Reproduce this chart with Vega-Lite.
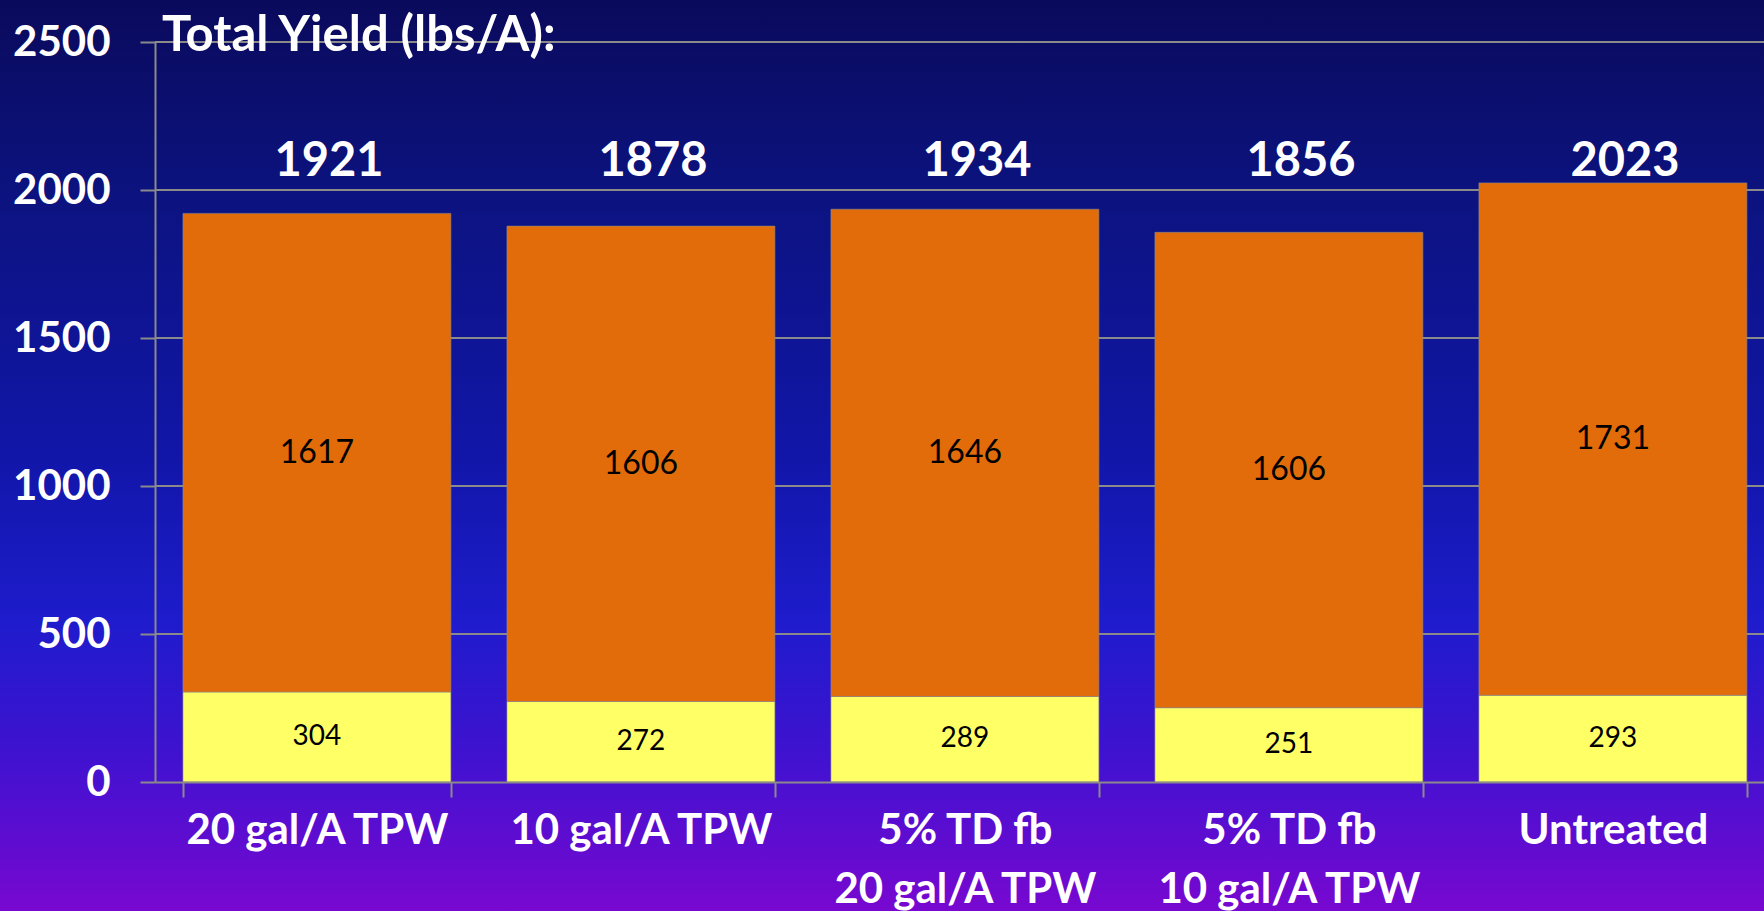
{
  "$schema": "https://vega.github.io/schema/vega-lite/v6.json",
  "autosize": {"type": "none"},
  "padding": {"left": 155, "top": 42, "right": 0, "bottom": 129},
  "width": 1609,
  "height": 740,
  "background": "#0e1490",
  "title": {
    "text": "Total Yield (lbs/A):",
    "anchor": "start",
    "frame": "group",
    "orient": "top",
    "baseline": "alphabetic",
    "offset": -100,
    "dx": 7,
    "font": "Lato",
    "fontSize": 49,
    "fontWeight": "bold",
    "color": "#ffffff",
    "zindex": 1
  },
  "datasets": {
    "parts": [
      {"category": "20 gal/A TPW", "segment": "lower", "value": 304},
      {"category": "20 gal/A TPW", "segment": "upper", "value": 1617},
      {"category": "10 gal/A TPW", "segment": "lower", "value": 272},
      {"category": "10 gal/A TPW", "segment": "upper", "value": 1606},
      {"category": "5% TD fb\n20 gal/A TPW", "segment": "lower", "value": 289},
      {"category": "5% TD fb\n20 gal/A TPW", "segment": "upper", "value": 1646},
      {"category": "5% TD fb\n10 gal/A TPW", "segment": "lower", "value": 251},
      {"category": "5% TD fb\n10 gal/A TPW", "segment": "upper", "value": 1606},
      {"category": "Untreated", "segment": "lower", "value": 293},
      {"category": "Untreated", "segment": "upper", "value": 1731}
    ],
    "totals": [
      {"category": "20 gal/A TPW", "total": 1921},
      {"category": "10 gal/A TPW", "total": 1878},
      {"category": "5% TD fb\n20 gal/A TPW", "total": 1934},
      {"category": "5% TD fb\n10 gal/A TPW", "total": 1856},
      {"category": "Untreated", "total": 2023}
    ],
    "backdrop": [{}]
  },
  "layer": [
    {
      "data": {"name": "backdrop"},
      "mark": {
        "type": "rect",
        "x": -155,
        "x2": 1609,
        "y": -42,
        "y2": 869,
        "fill": {
          "gradient": "linear",
          "x1": 0, "y1": 0, "x2": 0, "y2": 1,
          "stops": [
            {"offset": 0, "color": "#0a0a5c"},
            {"offset": 0.22, "color": "#0c1380"},
            {"offset": 0.5, "color": "#1116a8"},
            {"offset": 0.68, "color": "#1e1ccc"},
            {"offset": 0.83, "color": "#4012d0"},
            {"offset": 1, "color": "#7808d0"}
          ]
        }
      },
      "encoding": {}
    },
    {
      "data": {"values": [{"v": 500}, {"v": 1000}, {"v": 1500}, {"v": 2000}, {"v": 2500}]},
      "mark": {"type": "rule", "color": "#8a8a8a", "strokeWidth": 2},
      "encoding": {
        "y": {"field": "v", "type": "quantitative"}
      }
    },
    {
      "data": {"name": "parts"},
      "mark": {"type": "bar", "stroke": "#8a8a8a", "strokeWidth": 1, "strokeOpacity": 0.6},
      "encoding": {
        "x": {
          "field": "category",
          "type": "nominal",
          "sort": null,
          "scale": {"paddingInner": 0.173, "paddingOuter": 0.0696, "align": 0.62},
          "axis": {
            "title": null,
            "labelAngle": 0,
            "labelExpr": "split(datum.label, '\\n')",
            "labelFont": "Lato",
            "labelFontSize": 42,
            "labelFontWeight": "bold",
            "labelColor": "#ffffff",
            "labelLineHeight": 59,
            "labelBaseline": "top",
            "labelPadding": 13,
            "labelLimit": 0,
            "tickBand": "extent",
            "tickSize": 15,
            "tickColor": "#8a8a8a",
            "tickWidth": 2,
            "domainColor": "#8a8a8a",
            "domainWidth": 2,
            "grid": false,
            "zindex": 1
          }
        },
        "y": {
          "field": "value",
          "type": "quantitative",
          "stack": "zero",
          "scale": {"domain": [0, 2500], "nice": false},
          "axis": {
            "title": null,
            "values": [0, 500, 1000, 1500, 2000, 2500],
            "format": "d",
            "labelFont": "Lato",
            "labelFontSize": 42,
            "labelFontWeight": "bold",
            "labelColor": "#ffffff",
            "labelPadding": 30,
            "labelLimit": 0,
            "tickSize": 15,
            "tickColor": "#8a8a8a",
            "tickWidth": 2,
            "domainColor": "#8a8a8a",
            "domainWidth": 2,
            "grid": false,
            "zindex": 1
          }
        },
        "color": {
          "field": "segment",
          "type": "nominal",
          "scale": {"domain": ["lower", "upper"], "range": ["#FFFF66", "#E36C0A"]},
          "legend": null
        },
        "order": {"field": "segment", "sort": "ascending"}
      }
    },
    {
      "data": {"name": "parts"},
      "mark": {"type": "text", "font": "Lato", "color": "#000000", "baseline": "middle"},
      "encoding": {
        "x": {"field": "category", "type": "nominal", "sort": null},
        "y": {"field": "value", "type": "quantitative", "stack": "zero", "bandPosition": 0.5},
        "detail": {"field": "segment"},
        "order": {"field": "segment", "sort": "ascending"},
        "size": {"field": "segment", "type": "nominal", "scale": {"domain": ["lower", "upper"], "range": [28, 32]}, "legend": null},
        "text": {"field": "value", "type": "quantitative", "format": "d"}
      }
    },
    {
      "data": {"name": "totals"},
      "mark": {"type": "text", "font": "Lato", "fontSize": 47, "fontWeight": "bold", "color": "#ffffff", "baseline": "alphabetic", "dx": 12},
      "encoding": {
        "x": {"field": "category", "type": "nominal", "sort": null},
        "y": {"datum": 2047},
        "text": {"field": "total", "type": "quantitative", "format": "d"}
      }
    }
  ],
  "config": {
    "view": {"stroke": null},
    "font": "Lato"
  }
}
